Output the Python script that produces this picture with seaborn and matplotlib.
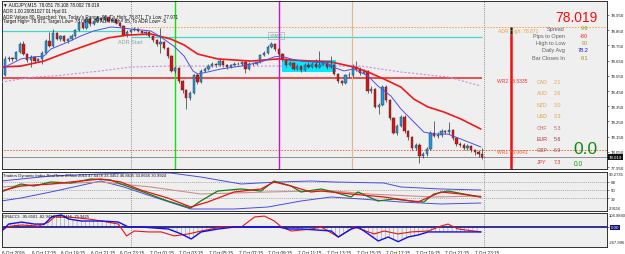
import numpy as np
import pandas as pd
import seaborn as sns
import matplotlib
matplotlib.use('Agg')
import matplotlib.pyplot as plt

# AUDJPY M15 candles, 6 Oct 15:15 .. 7 Oct 23:45 (bar index 0..130)
first_open = 78.570
closes = [78.555, 78.661, 78.667, 78.661, 78.707, 78.759, 78.693, 78.654, 78.674, 78.647,
          78.661, 78.700, 78.779, 78.746, 78.832, 78.792, 78.812, 78.779, 78.792, 78.812,
          78.851, 78.897, 78.864, 78.924, 78.891, 78.911, 78.930, 78.917, 78.937, 78.911,
          78.924, 78.897, 78.878, 78.818, 78.838, 78.851, 78.858, 78.845, 78.832, 78.838,
          78.812, 78.786, 78.759, 78.772, 78.733, 78.680, 78.582, 78.601, 78.516, 78.457,
          78.404, 78.437, 78.555, 78.509, 78.582, 78.595, 78.614, 78.628, 78.621, 78.647,
          78.621, 78.608, 78.621, 78.628, 78.630, 78.641, 78.595, 78.628, 78.625, 78.641,
          78.687, 78.700, 78.739, 78.759, 78.726, 78.693, 78.661, 78.621, 78.634, 78.595,
          78.614, 78.588, 78.621, 78.608, 78.628, 78.608, 78.621, 78.634, 78.608, 78.621,
          78.562, 78.516, 78.503, 78.555, 78.552, 78.608, 78.595, 78.568, 78.582, 78.450,
          78.463, 78.345, 78.358, 78.476, 78.391, 78.272, 78.174, 78.220, 78.279, 78.187,
          78.147, 78.075, 78.095, 78.022, 78.035, 78.068, 78.174, 78.154, 78.161, 78.187,
          78.180, 78.193, 78.141, 78.101, 78.095, 78.075, 78.088, 78.062, 78.049, 78.035,
          78.019]
highs = [78.590, 78.680, 78.680, 78.675, 78.715, 78.770, 78.779, 78.700, 78.685, 78.680,
         78.670, 78.710, 78.790, 78.838, 78.858, 78.840, 78.820, 78.820, 78.800, 78.825,
         78.860, 78.910, 78.905, 78.935, 78.930, 78.920, 78.945, 78.940, 78.950, 78.945,
         78.935, 78.930, 78.905, 78.885, 78.850, 78.860, 78.871, 78.865, 78.850, 78.845,
         78.845, 78.820, 78.795, 78.865, 78.780, 78.740, 78.690, 78.615, 78.610, 78.525,
         78.465, 78.450, 78.565, 78.570, 78.595, 78.610, 78.625, 78.640, 78.635, 78.665,
         78.655, 78.630, 78.630, 78.640, 78.640, 78.650, 78.648, 78.638, 78.640, 78.650,
         78.695, 78.712, 78.750, 78.775, 78.765, 78.735, 78.700, 78.668, 78.645, 78.640,
         78.625, 78.620, 78.635, 78.640, 78.640, 78.660, 78.713, 78.650, 78.642, 78.680,
         78.628, 78.570, 78.525, 78.565, 78.575, 78.625, 78.650, 78.605, 78.595, 78.590,
         78.480, 78.470, 78.370, 78.490, 78.490, 78.400, 78.280, 78.235, 78.290, 78.290,
         78.195, 78.155, 78.110, 78.105, 78.050, 78.080, 78.190, 78.250, 78.180, 78.200,
         78.195, 78.245, 78.200, 78.150, 78.115, 78.105, 78.100, 78.095, 78.070, 78.060,
         78.075]
lows = [78.510, 78.550, 78.650, 78.645, 78.655, 78.700, 78.688, 78.640, 78.608, 78.635,
        78.640, 78.628, 78.695, 78.740, 78.740, 78.785, 78.780, 78.770, 78.765, 78.785,
        78.805, 78.845, 78.855, 78.860, 78.880, 78.885, 78.905, 78.910, 78.910, 78.905,
        78.905, 78.890, 78.870, 78.810, 78.805, 78.830, 78.845, 78.838, 78.825, 78.820,
        78.805, 78.775, 78.745, 78.700, 78.725, 78.670, 78.575, 78.570, 78.505, 78.440,
        78.332, 78.390, 78.430, 78.495, 78.500, 78.575, 78.585, 78.605, 78.610, 78.615,
        78.610, 78.598, 78.600, 78.615, 78.618, 78.622, 78.570, 78.590, 78.615, 78.618,
        78.635, 78.680, 78.695, 78.730, 78.715, 78.685, 78.650, 78.610, 78.612, 78.585,
        78.588, 78.578, 78.582, 78.600, 78.600, 78.600, 78.600, 78.615, 78.598, 78.600,
        78.555, 78.505, 78.490, 78.495, 78.540, 78.545, 78.580, 78.555, 78.560, 78.440,
        78.440, 78.335, 78.300, 78.350, 78.380, 78.260, 78.165, 78.160, 78.210, 78.175,
        78.130, 78.060, 78.065, 77.975, 78.010, 78.020, 78.060, 78.145, 78.140, 78.150,
        78.165, 78.170, 78.130, 78.090, 78.080, 78.060, 78.065, 78.050, 78.030, 78.015,
        78.005]

# moving averages on the price chart (bar index, price)
fast_ma_x = [0, 5.3, 8.8, 11.5, 13.4, 18.0, 21.5, 25.0, 29.6, 33.1, 35.0, 40.4, 43.1, 46.6, 49.4,
             51.8, 53.1, 55.8, 59.4, 64.8, 70.2, 73.7, 75.6, 78.3, 81.0, 87.7, 90.4, 92.6, 95.3,
             99.1, 101.8, 105.3, 108.0, 110.7, 114.2, 116.9, 120.7, 124.2, 129.6]
fast_ma_y = [78.595, 78.661, 78.674, 78.680, 78.726, 78.772, 78.812, 78.845, 78.871, 78.864,
             78.858, 78.845, 78.805, 78.746, 78.680, 78.582, 78.562, 78.575, 78.595, 78.614,
             78.641, 78.674, 78.680, 78.661, 78.647, 78.634, 78.601, 78.582, 78.595, 78.549,
             78.483, 78.417, 78.332, 78.266, 78.180, 78.167, 78.167, 78.134, 78.082]
slow_ma_x = [0, 5.3, 11.5, 18.0, 23.4, 28.8, 34.2, 40.4, 45.8, 49.4, 53.1, 58.5, 67.5, 74.8, 78.3,
             89.1, 95.3, 99.1, 103.4, 108.0, 111.5, 115.3, 119.6, 124.2, 129.6]
slow_ma_y = [78.608, 78.614, 78.647, 78.707, 78.753, 78.799, 78.818, 78.825, 78.792, 78.753,
             78.693, 78.661, 78.647, 78.661, 78.654, 78.641, 78.608, 78.575, 78.529, 78.476,
             78.397, 78.345, 78.312, 78.266, 78.200]
long_ma_x = [0, 8.8, 14.2, 26.9, 35.0, 45.0, 72.1, 86.4, 97.2, 108.0, 120.7, 129.6]
long_ma_y = [78.509, 78.542, 78.549, 78.582, 78.608, 78.614, 78.614, 78.614, 78.614, 78.575,
             78.542, 78.483]

price_ticks = [78.950, 78.850, 78.750, 78.650, 78.550, 78.450, 78.350, 78.250, 78.150, 78.050, 77.950]
time_pos = [0, 8, 16, 24, 32, 40, 48, 56, 64, 72, 80, 88, 96, 104, 112, 120, 128]
time_labels = ['6 Oct 2016', '6 Oct 17:15', '6 Oct 19:15', '6 Oct 21:15', '6 Oct 23:15',
               '7 Oct 01:15', '7 Oct 03:15', '7 Oct 05:15', '7 Oct 07:15', '7 Oct 09:15',
               '7 Oct 11:15', '7 Oct 13:15', '7 Oct 15:15', '7 Oct 17:15', '7 Oct 19:15',
               '7 Oct 21:15', '7 Oct 23:15']

# Traders Dynamic Index
tdi_up_x = [0, 5.3, 13.4, 26.9, 35.0, 45.8, 53.9, 64.8, 74.8, 83.7, 89.9, 103.4, 108.0, 118.8, 129.6]
tdi_up_y = [70.1, 74.6, 81.3, 85.8, 88.0, 88.0, 79.1, 63.4, 67.9, 70.1, 67.9, 65.6, 56.7, 52.2, 49.9]
tdi_lo_x = [0, 5.3, 13.4, 26.9, 33.1, 40.4, 51.2, 62.9, 72.1, 81.0, 89.1, 97.2, 108.0, 118.8, 129.6]
tdi_lo_y = [25.3, 32.0, 45.5, 70.1, 56.7, 36.5, 7.4, 7.4, 11.9, 25.3, 34.3, 29.8, 23.1, 18.6, 20.8]
tdi_mid_x = [0, 13.4, 26.9, 32.3, 40.4, 53.9, 72.1, 83.7, 89.9, 99.1, 116.9, 129.6]
tdi_mid_y = [56.7, 63.4, 67.9, 63.4, 56.7, 41.0, 45.5, 47.7, 47.7, 41.0, 34.3, 36.5]
tdi_green_x = [0, 5.3, 8.8, 13.4, 18.8, 24.2, 29.6, 32.3, 37.7, 45.0, 51.2, 53.9, 58.5, 64.8, 70.2,
               73.7, 78.3, 81.0, 86.4, 89.9, 94.5, 96.4, 101.8, 106.1, 110.7, 114.2, 116.9, 120.7,
               125.0, 129.6]
tdi_green_y = [45.5, 63.4, 58.9, 67.9, 65.6, 74.6, 72.4, 63.4, 47.7, 25.3, 9.6, 25.3, 47.7, 52.2,
               47.7, 70.1, 58.9, 45.5, 52.2, 45.5, 34.3, 45.5, 25.3, 29.8, 25.3, 23.1, 41.0, 47.7,
               41.0, 34.3]
tdi_red_x = [0, 5.3, 13.4, 18.8, 26.9, 32.3, 37.7, 45.0, 51.2, 55.8, 62.9, 70.2, 73.7, 78.3, 83.7,
             86.4, 94.5, 103.4, 112.6, 118.8, 124.2, 129.6]
tdi_red_y = [47.7, 58.9, 63.4, 67.9, 74.6, 67.9, 49.9, 32.0, 11.9, 23.1, 45.5, 52.2, 67.9, 58.9,
             45.5, 47.7, 41.0, 34.3, 23.1, 45.5, 41.0, 34.3]

# DMI & CCI window
cci_blue_x = [0, 1.8, 5.3, 8.8, 11.5, 13.4, 14.2, 16.1, 18.0, 21.5, 26.9, 31.5, 34.2, 37.7, 45.0,
              48.5, 51.2, 53.9, 58.5, 62.9, 68.3, 74.8, 77.5, 81.0, 89.1, 91.0, 94.5, 96.4, 99.1,
              101.8, 104.5, 107.2, 109.9, 112.6, 115.3, 118.8, 124.2, 129.6]
cci_blue_y = [-30, 22, 37, 22, 22, 75, 82, 90, 60, 45, 45, 37, 0, 0, -15, -52, -90, -37, -15, 0,
              0, 0, -15, -15, -30, -75, -15, 0, -52, -105, -75, -110, -75, -60, -37, -37, -37, -37]
cci_red_x = [0, 2.6, 5.3, 9.9, 12.6, 14.2, 18.0, 23.4, 26.9, 31.5, 33.7, 35.8, 39.6, 43.1, 46.6,
             50.4, 53.9, 59.4, 64.8, 68.3, 71.0, 73.7, 75.6, 78.3, 83.7, 86.4, 91.0, 95.3, 100.7,
             103.4, 107.2, 110.7, 115.3, 118.8, 120.7, 123.4, 129.6]
cci_red_y = [-15, 7, 15, 7, 37, 75, 75, 60, 45, 22, -67, -30, -37, -37, -67, -52, -30, 0, 0, 75,
             82, 45, 0, -30, -15, 0, -75, 0, -52, -30, -52, -37, -30, 7, 22, -15, -37]

currencies = ['CAD', 'AUD', 'NZD', 'USD', 'CHF', 'EUR', 'GBP', 'JPY']
strength = ['2.1', '2.6', '3.0', '3.3', '5.3', '5.6', '6.9', '7.3']
cur_colors = ['#e8a444', '#e8a444', '#e8a444', '#e0a030', '#b86868', '#a83040', '#a84848', '#e83030']
info_names = ['Spread', 'Pips to Open', 'High to Low', 'Daily Avg', 'Bar Closes In']
info_values = ['9.6', '-80', '90', '78.2', '6:1']
info_colors = ['#a09000', '#ff2020', '#a09000', '#1010ff', '#a09000']

sns.set_theme(style='white')
plt.rcParams['font.family'] = ['Liberation Sans', 'DejaVu Sans']
plt.rcParams['hatch.linewidth'] = 0.35

W, H = 625, 255
bg = '#efefef'
fig = plt.figure(figsize=(W / 100, H / 100), dpi=100, facecolor='white')


def box(x0, y0, x1, y1):
    return [x0 / W, 1 - y1 / H, (x1 - x0) / W, (y1 - y0) / H]


def ftxt(x, y, s, **kw):
    kw.setdefault('va', 'center')
    fig.text(x / W, 1 - y / H, s, **kw)


ax = fig.add_axes(box(2, 2, 607, 170))
ax_tdi = fig.add_axes(box(2, 173, 607, 212))
ax_cci = fig.add_axes(box(2, 214, 607, 248))

XL = (0.2, 163.7)
for a in (ax, ax_tdi, ax_cci):
    a.set_facecolor(bg)
    a.set_xlim(*XL)
    for s in a.spines.values():
        s.set_color('#303030')
        s.set_linewidth(0.7)
    a.yaxis.tick_right()
    a.tick_params(axis='y', labelsize=3.2, length=1.5, width=0.4, pad=1.2, colors='#202020')
    a.set_xticks([])

# ---- main price chart ----
ax.set_ylim(77.937, 79.042)
idx = np.arange(len(closes))
opens = np.array([first_open] + closes[:-1])
cl = np.array(closes)
up = cl >= opens
ax.vlines(idx, lows, highs, color='#303030', lw=0.5, zorder=3)
body_lo = np.minimum(opens, cl)
body_h = np.maximum(np.abs(cl - opens), 0.002)
ax.bar(idx[up], body_h[up], bottom=body_lo[up], width=0.62, color='#1e9be6',
       edgecolor='#303030', linewidth=0.3, zorder=4)
ax.bar(idx[~up], body_h[~up], bottom=body_lo[~up], width=0.62, color='#e01010',
       edgecolor='#303030', linewidth=0.3, zorder=4)

# levels
ax.add_patch(plt.Rectangle((76, 78.575), 14.4, 0.079, color='#00eaff', zorder=2, lw=0))
ax.hlines(78.845, 0, 33, color='#3cd8cc', lw=0.9, zorder=2)
ax.hlines(78.805, 35, 130, color='#3cd8cc', lw=0.9, zorder=2)
ax.hlines(78.871, 35, XL[1], color='#f0a040', lw=0.7, linestyles=(0, (1.5, 1.5)), zorder=2)
ax.hlines(78.5335, 0, 130, color='#e82020', lw=1.1, zorder=2)
ax.hlines(78.0641, 0, XL[1], color='#e86030', lw=0.7, linestyles=(0, (1.5, 1.5)), zorder=2)
ax.hlines(78.019, 0, XL[1], color='#909090', lw=0.7, zorder=2)
ax.axvline(46.9, color='#10e010', lw=1.0, zorder=2)
ax.axvline(75.0, color='#d010d0', lw=1.0, zorder=2)
ax.axvline(94.8, color='#e0b890', lw=0.8, zorder=2)
for a in (ax, ax_tdi, ax_cci):
    a.axvline(35, color='#707070', lw=0.6, ls=(0, (1, 1.5)), zorder=1)
    a.axvline(130.5, color='#707070', lw=0.6, ls=(0, (1, 1.5)), zorder=1)
ax.vlines(137.7, 78.825, 78.871, color='#202020', lw=1.8, zorder=3)
ax.vlines(137.7, 77.937, 78.825, color='#f01010', lw=1.8, zorder=3)

sns.lineplot(x=long_ma_x, y=long_ma_y, ax=ax, color='#c890e0', lw=0.8, sort=False,
             estimator=None, legend=False, zorder=3).lines[-1].set_linestyle((0, (2, 1.5)))
sns.lineplot(x=slow_ma_x, y=slow_ma_y, ax=ax, color='#f01818', lw=1.2, sort=False,
             estimator=None, legend=False, zorder=5)
sns.lineplot(x=fast_ma_x, y=fast_ma_y, ax=ax, color='#5050e0', lw=0.7, sort=False,
             estimator=None, legend=False, zorder=5)

ax.set_yticks(price_ticks)
ax.set_yticklabels([f'{p:.3f}' for p in price_ticks])
ax.set_xlabel('')
ax.set_ylabel('')
ax.set_xticks([])

# ---- TDI ----
ax_tdi.set_ylim(2.9116, 90.2736)
for lv in (68, 50, 32):
    ax_tdi.axhline(lv, color='#909090', lw=0.5, ls=(0, (1.5, 1.5)), zorder=1)
sns.lineplot(x=tdi_up_x, y=tdi_up_y, ax=ax_tdi, color='#4a4ae8', lw=0.7, sort=False, estimator=None)
sns.lineplot(x=tdi_lo_x, y=tdi_lo_y, ax=ax_tdi, color='#4a4ae8', lw=0.7, sort=False, estimator=None)
sns.lineplot(x=tdi_mid_x, y=tdi_mid_y, ax=ax_tdi, color='#c89090', lw=0.8, sort=False, estimator=None)
sns.lineplot(x=tdi_green_x, y=tdi_green_y, ax=ax_tdi, color='#108010', lw=0.9, sort=False, estimator=None)
sns.lineplot(x=tdi_red_x, y=tdi_red_y, ax=ax_tdi, color='#f01010', lw=0.9, sort=False, estimator=None)
ax_tdi.set_yticks([68, 50, 32])
ax_tdi.set_yticklabels(['68', '50', '32'])
ax_tdi.set_xlabel('')
ax_tdi.set_ylabel('')
ax_tdi.set_xticks([])
ftxt(609, 174.5, '90.2736', fontsize=3.0, color='#202020')
ftxt(609, 209.5, '2.9116', fontsize=3.0, color='#202020')

# ---- DMI / CCI ----
ax_cci.set_ylim(-150, 105)
ax_cci.fill_between(cci_blue_x, 0, cci_blue_y, facecolor='none', edgecolor='#8a8a8a',
                    hatch='||||', lw=0, zorder=1)
ax_cci.axhline(0, color='#101080', lw=1.2, zorder=2)
sns.lineplot(x=cci_red_x, y=cci_red_y, ax=ax_cci, color='#f01010', lw=0.8, sort=False, estimator=None)
sns.lineplot(x=cci_blue_x, y=cci_blue_y, ax=ax_cci, color='#1010f0', lw=1.0, sort=False, estimator=None)
ax_cci.set_yticks([0])
ax_cci.set_yticklabels(['0.00'])
ax_cci.get_yticklabels()[0].set_bbox(dict(facecolor='#101080', edgecolor='none', pad=0.3))
ax_cci.get_yticklabels()[0].set_color('white')
ax_cci.set_xlabel('')
ax_cci.set_ylabel('')
ax_cci.set_xticks(time_pos)
ax_cci.set_xticklabels(time_labels, ha='left')
ax_cci.tick_params(axis='x', labelsize=3.3, length=1.5, width=0.4, pad=1, colors='#202020')
ftxt(609, 216, '104.9840', fontsize=3.0, color='#202020')
ftxt(609, 243, '-267.996', fontsize=3.0, color='#202020')

# ---- texts ----
small = dict(fontsize=3.3, color='#101010')
ftxt(3, 5, '\u25bc AUDJPY,M15  78.051 78.108 78.002 78.019', **small)
ftxt(3, 11, 'ADR 1.00 20051027 01 Hpd 01', **small)
ftxt(3, 17, "ADR Values 80, Reached: Yes, Today's Range: 90, T's High: 78.871, T's Low: 77.971", **small)
ftxt(3, 22, 'Target High= 78.871, Target Low= 78.0641, To ADR High= 85, To ADR Low= -5', **small)
ftxt(118, 43, 'ADR Start', fontsize=4.0, color='#80a8a8')
ftxt(276, 36.5, 'START', fontsize=3.0, color='#909090', ha='center',
     bbox=dict(facecolor='none', edgecolor='#a0a0a0', lw=0.4, pad=0.8))
ftxt(3, 176.5, 'Traders Dynamic Index RealTime 25Nov 2015 47.6478 33.3452 46.8635 33.8656 30.9924',
     fontsize=3.0, color='#101010')
ftxt(3, 217.5, 'DR&CCI: -95.6501 -82.9416 -92.4416 -75.9425', fontsize=3.0, color='#101010')

ftxt(597, 18, '78.019', fontsize=10, color='#f01010', ha='right')
for k, (nm, vl, vc) in enumerate(zip(info_names, info_values, info_colors)):
    yy = 29 + k * 7.3
    ftxt(565, yy, nm, fontsize=4.0, color='#606060', ha='right')
    ftxt(588, yy, vl, fontsize=4.0, color=vc, ha='right')
ftxt(498, 31, 'ADR High: 78.871', fontsize=3.6, color='#f0a040')
ftxt(497, 82, 'WR2 78.5335', fontsize=3.6, color='#e03838')
ftxt(497, 153, 'WR1 78.0641', fontsize=3.6, color='#e86030')
for k, (c, s, col) in enumerate(zip(currencies, strength, cur_colors)):
    yy = 82.5 + k * 11.4
    ftxt(537, yy, c, fontsize=3.8, color=col)
    ftxt(554, yy, s, fontsize=3.8, color=col)
ftxt(597, 150, '0.0', fontsize=12.5, color='#108a10', ha='right')
ftxt(574, 164.5, '0.0', fontsize=4.8, color='#10a010')

# current price tag on the price scale
ftxt(609, 158, '78.019', fontsize=3.2, color='white',
     bbox=dict(facecolor='#101010', edgecolor='none', pad=0.4))

fig.savefig('out.png', dpi=100, facecolor='white')
